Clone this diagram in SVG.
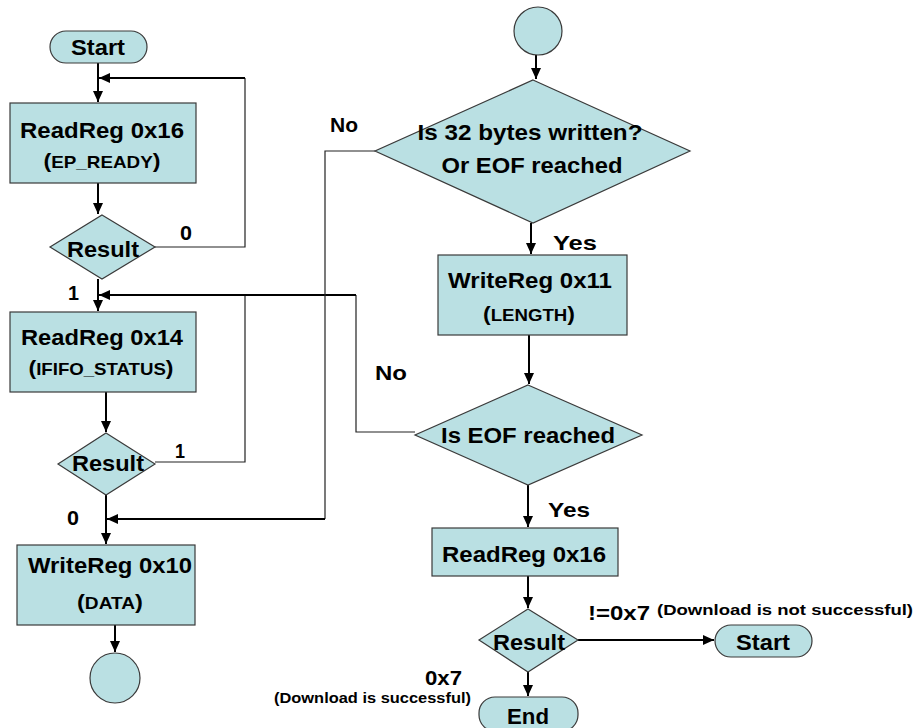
<svg xmlns="http://www.w3.org/2000/svg" width="917" height="728" viewBox="0 0 917 728">
<style>
.n{fill:#BAE0E3;stroke:#3a3a3a;stroke-width:1.2}
.c{fill:none;stroke:#000;stroke-width:2}
.t{fill:none;stroke:#222;stroke-width:1.2}
text{font-family:"Liberation Sans",Arial,sans-serif;font-weight:bold;fill:#000}
.m{font-size:22px;text-anchor:middle}
.s{font-size:17px;text-anchor:middle}
.p{font-size:21px}
.l{font-size:21px}
.k{font-size:15.5px}
</style>
<defs>
<marker id="a" markerUnits="userSpaceOnUse" markerWidth="12" markerHeight="10" refX="11" refY="5" orient="auto"><path d="M0,0 L11,5 L0,10 z" fill="#000"/></marker>
</defs>
<rect width="917" height="728" fill="#fff"/>
<g id="connectors">
<line class="c" x1="98" y1="63" x2="98" y2="102" marker-end="url(#a)"/>
<polyline class="t" points="155,247 245,247 245,78"/>
<line class="c" x1="245" y1="78" x2="99" y2="78" marker-end="url(#a)"/>
<line class="c" x1="98" y1="183" x2="98" y2="214" marker-end="url(#a)"/>
<line class="c" x1="98" y1="279" x2="98" y2="311" marker-end="url(#a)"/>
<polyline class="t" points="155,462 245,462 245,295"/>
<polyline class="t" points="415,432 356,432 356,295"/>
<line class="c" x1="356" y1="295" x2="99" y2="295" marker-end="url(#a)"/>
<line class="c" x1="106" y1="392" x2="106" y2="432" marker-end="url(#a)"/>
<line class="c" x1="106" y1="495" x2="106" y2="544" marker-end="url(#a)"/>
<polyline class="t" points="375,151 325,151 325,519"/>
<line class="c" x1="325" y1="519" x2="107" y2="519" marker-end="url(#a)"/>
<line class="c" x1="115" y1="625" x2="115" y2="652" marker-end="url(#a)"/>
<line class="c" x1="536" y1="55" x2="536" y2="79" marker-end="url(#a)"/>
<line class="c" x1="531" y1="223" x2="531" y2="254" marker-end="url(#a)"/>
<line class="c" x1="529" y1="335" x2="529" y2="384" marker-end="url(#a)"/>
<line class="c" x1="528" y1="485" x2="528" y2="527" marker-end="url(#a)"/>
<line class="c" x1="528" y1="576" x2="528" y2="608" marker-end="url(#a)"/>
<line class="c" x1="578" y1="640" x2="714" y2="640" marker-end="url(#a)"/>
<line class="c" x1="528" y1="672" x2="528" y2="696" marker-end="url(#a)"/>
</g>
<g id="start1"><rect class="n" x="50" y="31" width="97" height="32" rx="16"/><text class="m" x="98" y="55" textLength="54" lengthAdjust="spacingAndGlyphs">Start</text></g>
<g id="read16"><rect class="n" x="10" y="103" width="186" height="80"/><text class="m" x="102" y="138" textLength="164" lengthAdjust="spacingAndGlyphs">ReadReg 0x16</text><text class="s" x="102" y="168" textLength="117" lengthAdjust="spacingAndGlyphs"><tspan class="p">(</tspan>EP_READY<tspan class="p">)</tspan></text></g>
<g id="result1"><polygon class="n" points="102,215 155,247 102,279 50,247"/><text class="m" x="103" y="257" textLength="72" lengthAdjust="spacingAndGlyphs">Result</text></g>
<g id="read14"><rect class="n" x="10" y="312" width="186" height="80"/><text class="m" x="102" y="345" textLength="162" lengthAdjust="spacingAndGlyphs">ReadReg 0x14</text><text class="s" x="101" y="375" textLength="145" lengthAdjust="spacingAndGlyphs"><tspan class="p">(</tspan>IFIFO_STATUS<tspan class="p">)</tspan></text></g>
<g id="result2"><polygon class="n" points="106,433 155,464 106,495 58,464"/><text class="m" x="108" y="471" textLength="72" lengthAdjust="spacingAndGlyphs">Result</text></g>
<g id="write10"><rect class="n" x="17" y="545" width="178" height="80"/><text class="m" x="110" y="573" textLength="164" lengthAdjust="spacingAndGlyphs">WriteReg 0x10</text><text class="s" x="110" y="609" textLength="66" lengthAdjust="spacingAndGlyphs"><tspan class="p">(</tspan>DATA<tspan class="p">)</tspan></text></g>
<g id="circle1"><circle class="n" cx="115" cy="678" r="25"/></g>
<g id="circle2"><circle class="n" cx="538" cy="31" r="24"/></g>
<g id="dec32"><polygon class="n" points="533,80 690,151 533,223 375,151"/><text class="m" x="530" y="140" textLength="225" lengthAdjust="spacingAndGlyphs">Is 32 bytes written?</text><text class="m" x="532" y="173" textLength="181" lengthAdjust="spacingAndGlyphs">Or EOF reached</text></g>
<g id="write11"><rect class="n" x="438" y="255" width="189" height="80"/><text class="m" x="530" y="288" textLength="164" lengthAdjust="spacingAndGlyphs">WriteReg 0x11</text><text class="s" x="529" y="321" textLength="92" lengthAdjust="spacingAndGlyphs"><tspan class="p">(</tspan>LENGTH<tspan class="p">)</tspan></text></g>
<g id="eof"><polygon class="n" points="528,385 642,435 528,485 415,435"/><text class="m" x="528" y="443" textLength="174" lengthAdjust="spacingAndGlyphs">Is EOF reached</text></g>
<g id="read16b"><rect class="n" x="432" y="528" width="186" height="48"/><text class="m" x="524" y="562" textLength="164" lengthAdjust="spacingAndGlyphs">ReadReg 0x16</text></g>
<g id="result3"><polygon class="n" points="528,609 578,640 528,672 479,640"/><text class="m" x="529" y="650" textLength="72" lengthAdjust="spacingAndGlyphs">Result</text></g>
<g id="start2"><rect class="n" x="715" y="625" width="97" height="32" rx="16"/><text class="m" x="763" y="650" textLength="54" lengthAdjust="spacingAndGlyphs">Start</text></g>
<g id="end"><rect class="n" x="479" y="697" width="99" height="34" rx="16"/><text class="m" x="528" y="724" textLength="42" lengthAdjust="spacingAndGlyphs">End</text></g>
<g id="labels">
<text class="l" x="180" y="240" textLength="12" lengthAdjust="spacingAndGlyphs">0</text>
<text class="l" x="68" y="300" textLength="11" lengthAdjust="spacingAndGlyphs">1</text>
<text class="l" x="175" y="458" textLength="10" lengthAdjust="spacingAndGlyphs">1</text>
<text class="l" x="67" y="525" textLength="12" lengthAdjust="spacingAndGlyphs">0</text>
<text class="l" x="330" y="132" textLength="28" lengthAdjust="spacingAndGlyphs">No</text>
<text class="l" x="553" y="250" textLength="44" lengthAdjust="spacingAndGlyphs">Yes</text>
<text class="l" x="375" y="380" textLength="32" lengthAdjust="spacingAndGlyphs">No</text>
<text class="l" x="548" y="517" textLength="42" lengthAdjust="spacingAndGlyphs">Yes</text>
<text class="l" x="588" y="620" textLength="62" lengthAdjust="spacingAndGlyphs">!=0x7</text>
<text class="k" x="657" y="615" textLength="256" lengthAdjust="spacingAndGlyphs">(Download is not successful)</text>
<text class="l" x="462" y="685" text-anchor="end" textLength="37" lengthAdjust="spacingAndGlyphs">0x7</text>
<text class="k" x="471" y="703" text-anchor="end" textLength="197" lengthAdjust="spacingAndGlyphs">(Download is successful)</text>
</g>
</svg>
